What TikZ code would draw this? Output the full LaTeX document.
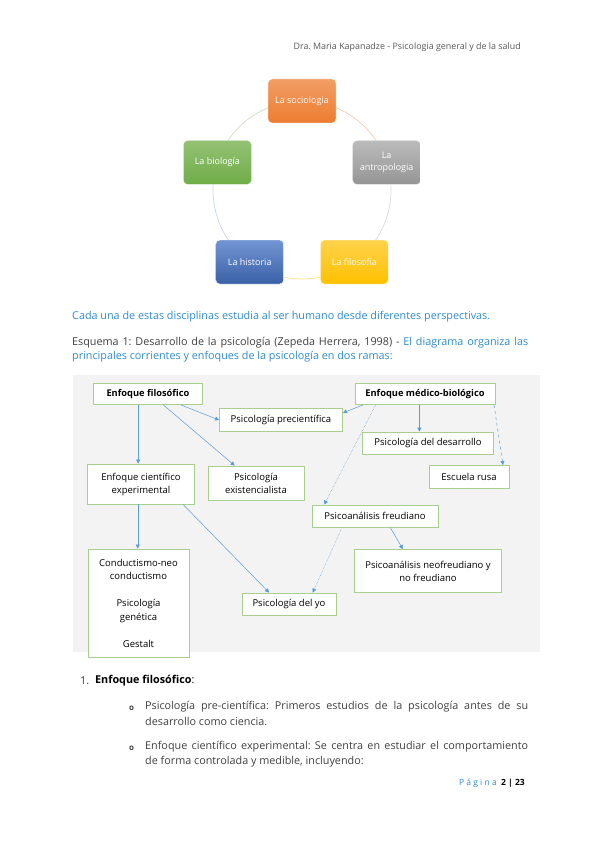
\documentclass[tikz,border=0pt]{standalone}
\usepackage{fontspec}
\setmainfont{Open Sans}
\frenchspacing
\usetikzlibrary{arrows.meta,calc}

\definecolor{txtblue}{HTML}{2F8BCC}
\definecolor{txtgray}{HTML}{404040}
\definecolor{hdrgray}{HTML}{595959}
\definecolor{flechablue}{HTML}{5B9BD5}
\definecolor{cajagreen}{HTML}{A8CF8D}
\definecolor{fondogray}{HTML}{F3F3F3}
\definecolor{socio}{HTML}{ED7D31}
\definecolor{antro}{HTML}{A5A5A5}
\definecolor{filos}{HTML}{FFC000}
\definecolor{histo}{HTML}{4472C4}
\definecolor{biolo}{HTML}{70AD47}

\begin{document}
\begin{tikzpicture}[x=1pt, y=-1pt]

    \tikzset{disc/.style={%
      draw=white,%
      rounded corners=4pt,%
      inner sep=0pt,%
      minimum width=68pt,%
      minimum height=44pt,%
      align=center,%
      text=white,%
      font=\fontsize{9}{11.5}\selectfont}%
    };

    \tikzset{caja/.style={%
      draw=cajagreen,%
      line width=0.9pt,%
      fill=white,%
      inner sep=0pt,%
      align=center,%
      text=black,%
      font=\fontsize{9.5}{13}\selectfont}%
    };

    \tikzset{rama/.style={caja, font=\fontsize{9.3}{13}\selectfont\bfseries}};

    \tikzset{flecha/.style={flechablue, line width=0.5pt, -{Triangle[width=4pt, length=4pt]}}};

    \tikzset{parrafo/.style={anchor=west, inner sep=0pt, font=\fontsize{10.8}{13}\selectfont}};

    \useasboundingbox[fill=white] (0,0) rectangle (599,848);

    %%%%%%%%%%
    % header %
    %%%%%%%%%%
    \node[anchor=east, inner sep=0pt, text=hdrgray, font=\fontsize{8.9}{10}\selectfont] (hdr) at (521,47)
      {Dra. Maria Kapanadze - Psicologia general y de la salud};

    %%%%%%%%%
    % cycle %
    %%%%%%%%%
    \coordinate (ctr) at (302,190);

    \draw[socio!40, line width=0.7pt] (ctr) ++(-90:89) arc[start angle=-90, end angle=-18, radius=89];
    \draw[antro!40, line width=0.7pt] (ctr) ++(-18:89) arc[start angle=-18, end angle=54, radius=89];
    \draw[filos!50, line width=0.7pt] (ctr) ++(54:89) arc[start angle=54, end angle=126, radius=89];
    \draw[histo!30, line width=0.7pt] (ctr) ++(126:89) arc[start angle=126, end angle=198, radius=89];
    \draw[biolo!35, line width=0.7pt] (ctr) ++(198:89) arc[start angle=198, end angle=270, radius=89];

    \node[disc, top color=socio!75, bottom color=socio] (soc) at ($(ctr)+(-90:89)$) {La sociologia};
    \node[disc, top color=antro!75, bottom color=antro!90!black] (ant) at ($(ctr)+(-18:89)$) {La\\antropologia};
    \node[disc, top color=filos!70, bottom color=filos] (fil) at ($(ctr)+(54:89)$) {La filosofia};
    \node[disc, top color=histo!75, bottom color=histo!85!black] (his) at ($(ctr)+(126:89)$) {La historia};
    \node[disc, top color=biolo!75, bottom color=biolo] (bio) at ($(ctr)+(198:89)$) {La biología};

    %%%%%%%%%%%%%%
    % paragraphs %
    %%%%%%%%%%%%%%
    \node[parrafo, text=txtblue] (cada) at (72,317)
      {Cada una de estas disciplinas estudia al ser humano desde diferentes perspectivas.};

    \node[parrafo] (esq1) at (72,343)
      {\makebox[456pt][s]{\textcolor{txtgray}{Esquema 1: Desarrollo de la psicología (Zepeda Herrera, 1998) -} \textcolor{txtblue}{El diagrama organiza las}}};
    \node[parrafo, text=txtblue] (esq2) at (72,357)
      {principales corrientes y enfoques de la psicología en dos ramas:};

    %%%%%%%%%%%
    % esquema %
    %%%%%%%%%%%
    \fill[fondogray] (73,375) rectangle (540,652);

    \node[rama, minimum width=109pt, minimum height=21pt] (filo) at (148,394) {Enfoque filosófico};
    \node[rama, minimum width=140pt, minimum height=21pt] (medico) at (425,394) {Enfoque médico-biológico};

    \node[caja, minimum width=123pt, minimum height=23pt] (precien) at (281,420) {Psicología precientífica};
    \node[caja, minimum width=131pt, minimum height=22pt] (desarr) at (428,443) {Psicología del desarrollo};
    \node[caja, minimum width=80pt, minimum height=23pt] (rusa) at (469,477) {Escuela rusa};

    \node[caja, minimum width=107pt, minimum height=40pt] (cientif) at (141,484) {Enfoque científico\\experimental};
    \node[caja, minimum width=96pt, minimum height=34pt] (exist) at (256,483) {Psicología\\existencialista};

    \node[caja, minimum width=126pt, minimum height=22pt] (freud) at (375,516) {Psicoanálisis freudiano};
    \node[caja, minimum width=147pt, minimum height=43pt] (neofreud) at (428,571) {Psicoanálisis neofreudiano y\\no freudiano};

    \node[caja, minimum width=94pt, minimum height=22pt] (yo) at (289,604) {Psicología del yo};

    \node[caja, minimum width=101pt, minimum height=108pt, font=\fontsize{9.5}{13.5}\selectfont] (conduct) at (138.5,603)
      {Conductismo-neo\\conductismo\\[13.5pt]Psicología\\genética\\[13.5pt]Gestalt};

    % enfoque filosofico
    \draw[flecha] ($(filo.south west)!0.8!(filo.south east)$) -- (precien.west);
    \draw[flecha] ($(filo.south west)!0.64!(filo.south east)$) -- ($(exist.north west)!0.28!(exist.north east)$);
    \draw[flecha] ($(filo.south west)!0.41!(filo.south east)$) coordinate (fs) -- (fs |- cientif.north);
    \draw[flecha] ($(cientif.south west)!0.47!(cientif.south east)$) coordinate (cs) -- (cs |- conduct.north);
    \draw[flecha] ($(cientif.south west)!0.89!(cientif.south east)$) -- ($(yo.north west)!0.29!(yo.north east)$);

    % enfoque medico-biologico
    \draw[flecha] ($(medico.south west)!0.06!(medico.south east)$) -- ($(precien.north east)!0.2!(precien.south east)$);
    \draw[flecha] ($(medico.south west)!0.46!(medico.south east)$) coordinate (ms) -- (ms |- desarr.north);
    \draw[flecha, dashed] ($(medico.south west)!0.99!(medico.south east)$) -- ($(rusa.north west)!0.92!(rusa.north east)$);
    \draw[flecha, densely dotted] ($(medico.south west)!0.15!(medico.south east)$) -- ($(freud.north west)!0.1!(freud.north east)$);
    \draw[flecha, densely dotted] ($(freud.south west)!0.24!(freud.south east)$) -- ($(yo.north west)!0.75!(yo.north east)$);
    \draw[flecha] ($(freud.south west)!0.62!(freud.south east)$) -- ($(neofreud.north west)!0.33!(neofreud.north east)$);

    %%%%%%%%%
    % lista %
    %%%%%%%%%
    \node[parrafo, text=txtgray] (num1) at (80,681) {1.};
    \node[parrafo, text=black] (item1) at (95,681) {\textbf{Enfoque filosófico}:};

    \node[parrafo, text=txtgray, font=\fontsize{8}{9}\selectfont\bfseries] (bul1) at (129,708) {o};
    \node[parrafo, text=txtgray] (sub1a) at (145,707)
      {\makebox[383pt][s]{Psicología pre-científica: Primeros estudios de la psicología antes de su}};
    \node[parrafo, text=txtgray] (sub1b) at (145,721) {desarrollo como ciencia.};

    \node[parrafo, text=txtgray, font=\fontsize{8}{9}\selectfont\bfseries] (bul2) at (129,748) {o};
    \node[parrafo, text=txtgray] (sub2a) at (145,747)
      {\makebox[383pt][s]{Enfoque científico experimental: Se centra en estudiar el comportamiento}};
    \node[parrafo, text=txtgray] (sub2b) at (145,762) {de forma controlada y medible, incluyendo:};

    %%%%%%%%%%
    % footer %
    %%%%%%%%%%
    \node[anchor=east, inner sep=0pt, font=\fontsize{8.5}{10}\selectfont] (pag) at (525,783)
      {\textcolor{txtblue}{P á g i n a}\ \ \textbf{2 | 23}};

\end{tikzpicture}
\end{document}
